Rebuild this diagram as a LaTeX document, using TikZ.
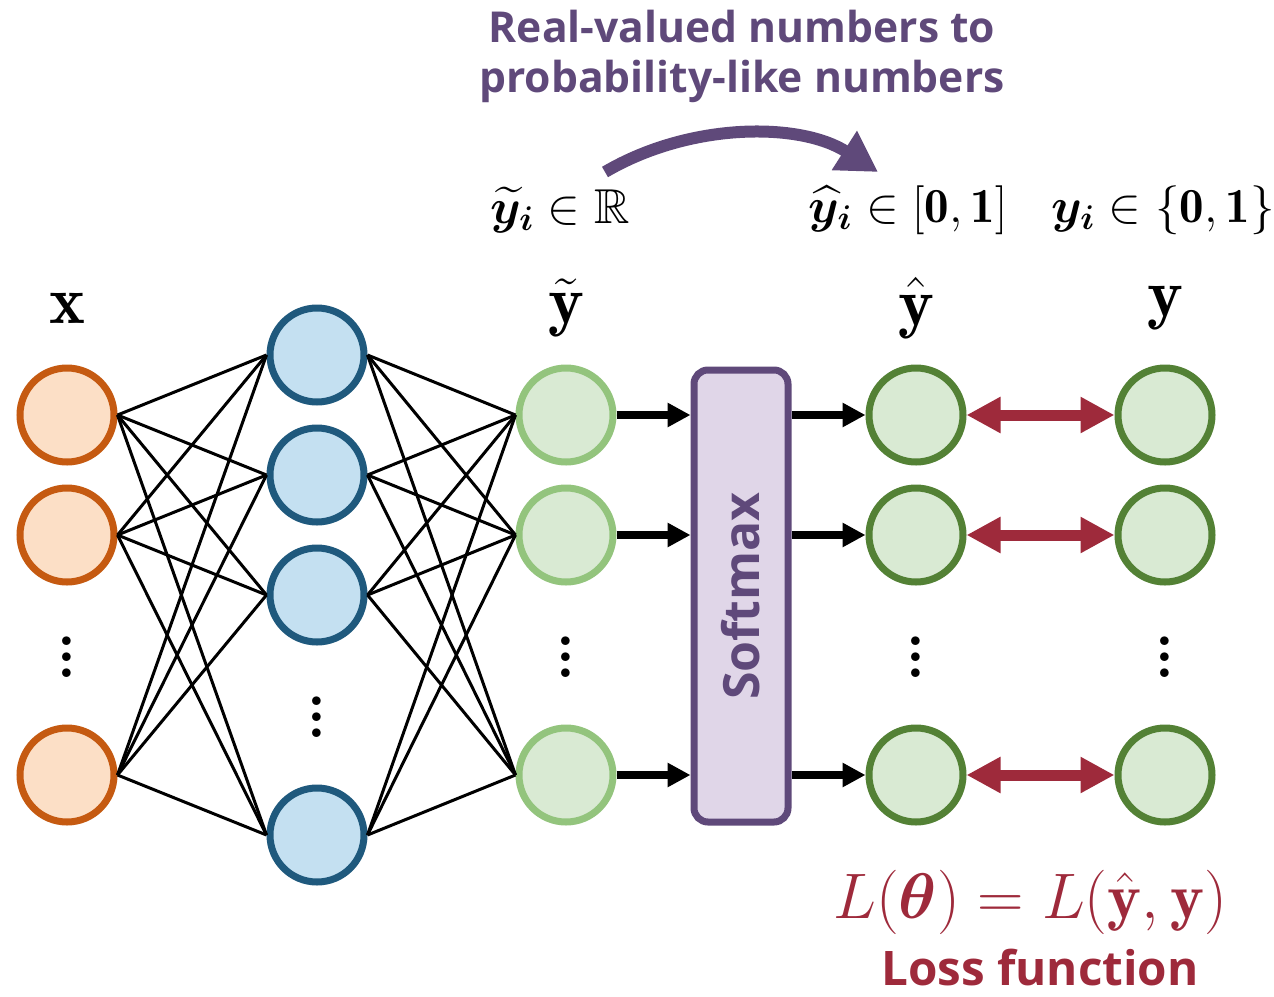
\RequirePackage{fix-cm}
\documentclass[tikz,border=0pt]{standalone}
\usepackage{amsmath}
\usepackage{amssymb}
\usepackage{bm}
\usepackage{fontspec}
\newfontfamily\opensans{Open Sans}
\usetikzlibrary{arrows.meta}
\definecolor{in-orange}{RGB}{197,90,17}
\definecolor{in-fill}{RGB}{252,223,198}
\definecolor{hid-blue}{RGB}{31,89,125}
\definecolor{hid-fill}{RGB}{196,224,241}
\definecolor{out-light}{RGB}{147,196,125}
\definecolor{out-dark}{RGB}{83,129,53}
\definecolor{out-fill}{RGB}{217,234,211}
\definecolor{sm-purple}{RGB}{95,73,122}
\definecolor{sm-fill}{RGB}{224,214,232}
\definecolor{loss-red}{RGB}{158,42,59}
\newcommand{\colvdots}{\vbox{\baselineskip=8pt\lineskiplimit=0pt\hbox{.}\hbox{.}\hbox{.}}}

\tikzset{
  neuron/.style={circle, line width=3.5pt, minimum size=47pt, inner sep=0pt},
  link/.style={line width=1.5pt},
  flow/.style={line width=4pt, -{Triangle[length=11.5pt,width=11.5pt]}},
  lossarrow/.style={loss-red, line width=5.5pt,
    {Triangle[length=17pt,width=17pt]}-{Triangle[length=17pt,width=17pt]}},
  mathlab/.style={font=\fontsize{24.5}{28}\selectfont},
  biglab/.style={font=\fontsize{34}{40}\selectfont},
  vdotsnode/.style={font=\bfseries\fontsize{30}{30}\selectfont, inner sep=0pt}
}

\begin{document}
\begin{tikzpicture}[x=0.5pt, y=-0.5pt]
\useasboundingbox (0,0) rectangle (1274,996);

% Input layer
\node[neuron, draw=in-orange, fill=in-fill] (in0) at (67, 415) {};
\node[neuron, draw=in-orange, fill=in-fill] (in1) at (67, 535) {};
\node[neuron, draw=in-orange, fill=in-fill] (in2) at (67, 775) {};
\node[vdotsnode] (indots) at (67, 657) {\colvdots};
\node[biglab] (xlab) at (67, 308) {$\mathbf{x}$};

% Hidden layer
\node[neuron, draw=hid-blue, fill=hid-fill] (h0) at (317, 355) {};
\node[neuron, draw=hid-blue, fill=hid-fill] (h1) at (317, 475) {};
\node[neuron, draw=hid-blue, fill=hid-fill] (h2) at (317, 595) {};
\node[neuron, draw=hid-blue, fill=hid-fill] (h3) at (317, 835) {};
\node[vdotsnode] (hdots) at (317, 717) {\colvdots};

% Logits
\node[neuron, draw=out-light, fill=out-fill] (yt0) at (566, 415) {};
\node[neuron, draw=out-light, fill=out-fill] (yt1) at (566, 535) {};
\node[neuron, draw=out-light, fill=out-fill] (yt2) at (566, 775) {};
\node[vdotsnode] (ytdots) at (566, 657) {\colvdots};
\node[biglab] (ytlab) at (566, 308) {$\tilde{\mathbf{y}}$};

% Softmax box
\node[draw=sm-purple, fill=sm-fill, line width=3.5pt, rounded corners=7pt,
      minimum width=47pt, minimum height=226pt, inner sep=0pt] (softmax) at (741, 596) {};
\node[rotate=90, text=sm-purple, font=\opensans\bfseries\fontsize{25}{30}\selectfont]
      (smtext) at (741, 596) {Softmax};

% Probabilities
\node[neuron, draw=out-dark, fill=out-fill] (yh0) at (916, 415) {};
\node[neuron, draw=out-dark, fill=out-fill] (yh1) at (916, 535) {};
\node[neuron, draw=out-dark, fill=out-fill] (yh2) at (916, 775) {};
\node[vdotsnode] (yhdots) at (916, 657) {\colvdots};
\node[biglab] (yhlab) at (916, 308) {$\hat{\mathbf{y}}$};

% Targets
\node[neuron, draw=out-dark, fill=out-fill] (y0) at (1165, 415) {};
\node[neuron, draw=out-dark, fill=out-fill] (y1) at (1165, 535) {};
\node[neuron, draw=out-dark, fill=out-fill] (y2) at (1165, 775) {};
\node[vdotsnode] (ydots) at (1165, 657) {\colvdots};
\node[biglab] (ylab) at (1165, 308) {$\mathbf{y}$};

% Weights
\foreach \i in {0,1,2}
  \foreach \j in {0,1,2,3}
    \draw[link] (in\i.east) -- (h\j.west);
\foreach \j in {0,1,2,3}
  \foreach \k in {0,1,2}
    \draw[link] (h\j.east) -- (yt\k.west);

% Into and out of softmax
\foreach \k in {0,1,2} {
  \draw[flow] (yt\k.east) -- (yt\k.east -| softmax.west);
  \draw[flow] (yh\k.west -| softmax.east) -- (yh\k.west);
  \draw[lossarrow] (yh\k.east) -- (y\k.west);
}

% Value ranges
\node[mathlab] (ytrange) at (560, 210) {$\bm{\widetilde{y}_i} \in \mathbb{R}$};
\node[mathlab] (yhrange) at (908, 210) {$\bm{\widehat{y}_i} \in [\mathbf{0},\mathbf{1}]$};
\node[mathlab] (yrange) at (1163, 210) {$\bm{y_i} \in \{\mathbf{0},\mathbf{1}\}$};

% Mapping arrow and caption
\coordinate (mapstart) at (605, 172);
\coordinate (mapend) at (878, 172);
\draw[sm-purple, line width=6pt, -{Triangle[length=20pt,width=22pt]}]
    (mapstart) .. controls (690, 122) and (800, 122) .. (mapend);
\node[text=sm-purple, align=center, font=\opensans\bfseries\fontsize{21.3}{25}\selectfont]
    (maptext) at (742, 56) {Real-valued numbers to\\probability-like numbers};

% Loss
\node[text=loss-red, font=\fontsize{32.2}{38}\selectfont] (lossfn) at (1030, 902)
    {$L(\bm{\theta}) = L(\hat{\mathbf{y}},\mathbf{y})$};
\node[text=loss-red, font=\opensans\bfseries\fontsize{23.8}{28}\selectfont] (losstext)
    at (1040, 968) {Loss function};

\end{tikzpicture}
\end{document}
